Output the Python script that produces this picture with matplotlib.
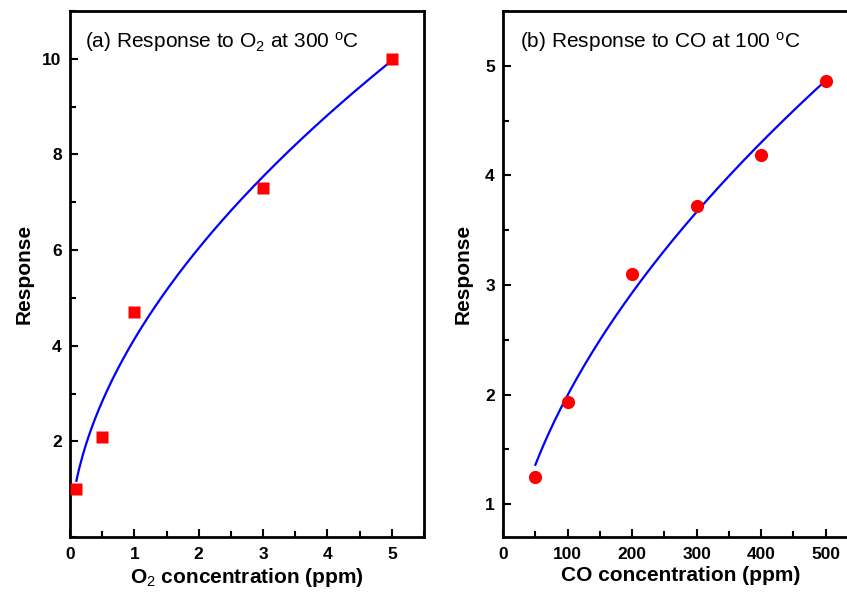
import numpy as np
import matplotlib
matplotlib.use('Agg')
import matplotlib.pyplot as plt
from matplotlib.ticker import MultipleLocator

plt.rcParams['font.family'] = 'Liberation Sans'
plt.rcParams['mathtext.fontset'] = 'custom'
plt.rcParams['mathtext.rm'] = 'Liberation Sans'
plt.rcParams['mathtext.it'] = 'Liberation Sans:italic'
plt.rcParams['mathtext.bf'] = 'Liberation Sans:bold'

# (a) O2 at 300 C
o2_conc = np.array([0.1, 0.5, 1.0, 3.0, 5.0])
o2_resp = np.array([1.0, 2.1, 4.7, 7.3, 10.0])

# (b) CO at 100 C
co_conc = np.array([50, 100, 200, 300, 400, 500])
co_resp = np.array([1.25, 1.93, 3.1, 3.72, 4.19, 4.86])


def power_fit(x, y):
    # y = a * x^b ; weights ~y so it behaves like a least squares fit in linear space
    b, loga = np.polyfit(np.log(x), np.log(y), 1, w=y)
    xx = np.linspace(x.min(), x.max(), 200)
    return xx, np.exp(loga) * xx ** b


def style(ax):
    for s in ax.spines.values():
        s.set_linewidth(2)
    ax.tick_params(which='both', direction='in', width=1.5, labelsize=12.5)
    ax.tick_params(which='major', length=6)
    ax.tick_params(which='minor', length=4)
    ax.tick_params(axis='x', pad=7)
    ax.tick_params(axis='y', pad=6)
    for lab in ax.get_xticklabels() + ax.get_yticklabels():
        lab.set_fontweight('bold')


fig = plt.figure(figsize=(8.47, 5.94), dpi=100)
ax1 = fig.add_axes([0.0826, 0.096, 0.418, 0.8855])
ax2 = fig.add_axes([0.594, 0.096, 0.419, 0.8855])

xx, yy = power_fit(o2_conc, o2_resp)
ax1.plot(xx, yy, color='blue', lw=1.6, zorder=2)
ax1.plot(o2_conc, o2_resp, 's', color='red', ms=8.5, mec='none', zorder=3)
ax1.set_xlim(0, 5.5)
ax1.set_ylim(0, 11)
ax1.xaxis.set_major_locator(MultipleLocator(1))
ax1.xaxis.set_minor_locator(MultipleLocator(0.5))
ax1.set_yticks([2, 4, 6, 8, 10])
ax1.yaxis.set_minor_locator(MultipleLocator(1))
ax1.set_xlabel('O$_2$ concentration (ppm)', fontsize=15, fontweight='bold', labelpad=3)
ax1.set_ylabel('Response', fontsize=15, fontweight='bold', labelpad=6)
ax1.text(0.042, 0.941, '(a) Response to O$_2$ at 300 $^{\\mathrm{o}}$C', transform=ax1.transAxes,
         fontsize=15, va='center')
style(ax1)

xx, yy = power_fit(co_conc, co_resp)
ax2.plot(xx, yy, color='blue', lw=1.6, zorder=2)
ax2.plot(co_conc, co_resp, 'o', color='red', ms=9.5, mec='none', zorder=3)
ax2.set_xlim(0, 550)
ax2.set_ylim(0.7, 5.5)
ax2.xaxis.set_major_locator(MultipleLocator(100))
ax2.xaxis.set_minor_locator(MultipleLocator(50))
ax2.set_yticks([1, 2, 3, 4, 5])
ax2.yaxis.set_minor_locator(MultipleLocator(0.5))
ax2.set_xlabel('CO concentration (ppm)', fontsize=15, fontweight='bold', labelpad=3)
ax2.set_ylabel('Response', fontsize=15, fontweight='bold', labelpad=9)
ax2.text(0.048, 0.941, '(b) Response to CO at 100 $^{\\mathrm{o}}$C', transform=ax2.transAxes,
         fontsize=15, va='center')
style(ax2)

fig.savefig('out.png', dpi=100)
